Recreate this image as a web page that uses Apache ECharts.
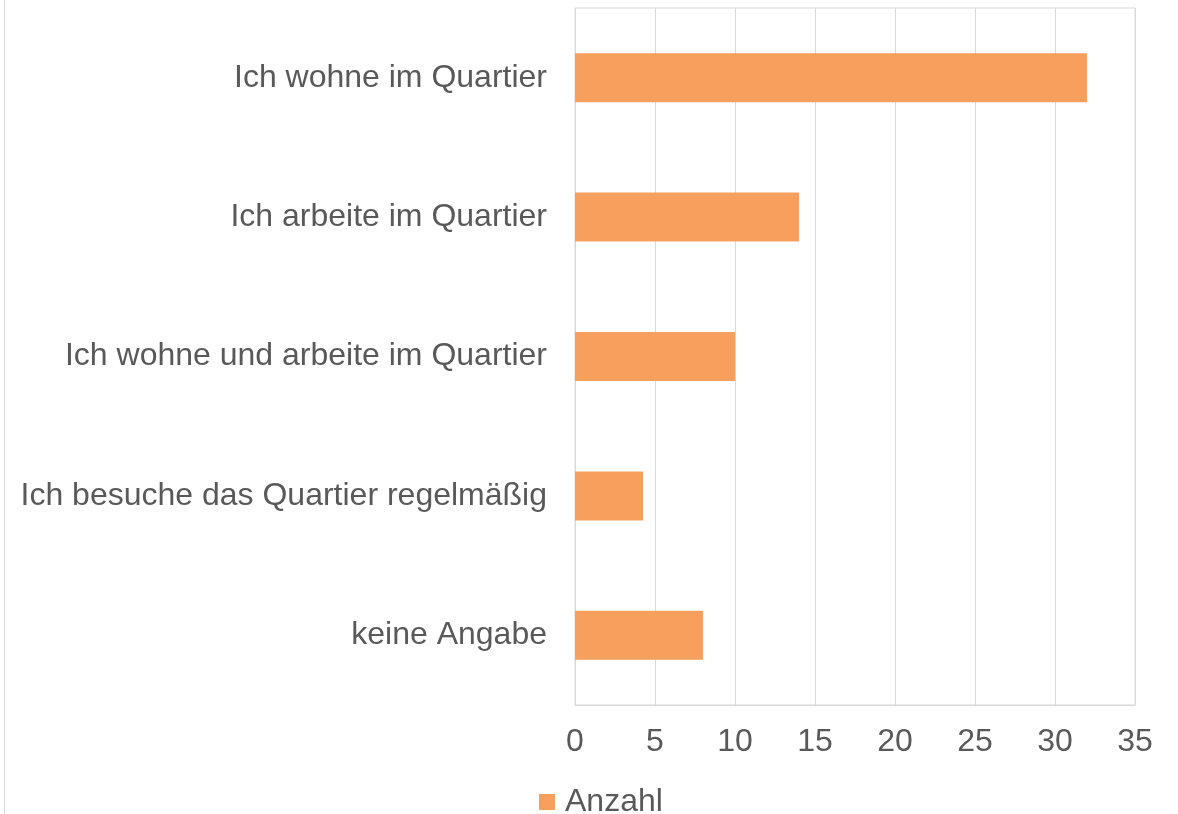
<!DOCTYPE html>
<html>
<head>
<meta charset="utf-8">
<script src="https://cdn.jsdelivr.net/npm/echarts@6/dist/echarts.min.js"></script>
<style>
html, body { margin: 0; padding: 0; background: #fff; }
#chart { width: 1178px; height: 814px; }
</style>
</head>
<body>
<div id="chart"></div>
<script>
// data
const categories = [
    'Ich wohne im Quartier',
    'Ich arbeite im Quartier',
    'Ich wohne und arbeite im Quartier',
    'Ich besuche das Quartier regelmäßig',
    'keine Angabe'
]
const anzahl = [32, 14, 10, 4.25, 8]
const seriesName = 'Anzahl'
const xMin = 0
const xMax = 35
const xStep = 5

const textColor = '#595959'
const lineColor = '#d9d9d9'
const font = '"Liberation Sans", Arial, sans-serif'

let myChart = echarts.init(document.getElementById('chart'))
let option = {
    animation: false,
    textStyle: { fontFamily: font },
    graphic: [
        {
            type: 'line',
            shape: { x1: 4.5, y1: 0, x2: 4.5, y2: 814 },
            style: { stroke: lineColor, lineWidth: 1 }
        }
    ],
    grid: {
        left: 575,
        right: 43,
        top: 8,
        bottom: 109,
        show: true,
        borderColor: lineColor,
        borderWidth: 1
    },
    legend: {
        left: 539,
        top: 786,
        padding: 0,
        icon: 'rect',
        itemWidth: 16,
        itemHeight: 16,
        itemGap: 10,
        textStyle: { color: textColor, fontSize: 32, fontFamily: font, padding: [0, 0, 0, 5] },
        data: [seriesName]
    },
    xAxis: {
        type: 'value',
        min: xMin,
        max: xMax,
        interval: xStep,
        axisLine: { show: true, lineStyle: { color: lineColor } },
        axisTick: { show: false },
        splitLine: { show: true, lineStyle: { color: lineColor, width: 1 } },
        axisLabel: { color: textColor, fontSize: 32, margin: 21, fontFamily: font }
    },
    yAxis: {
        type: 'category',
        inverse: true,
        data: categories,
        axisLine: { show: true, lineStyle: { color: lineColor } },
        axisTick: { show: false },
        axisLabel: { color: textColor, fontSize: 32, margin: 28, fontFamily: font }
    },
    series: [
        {
            name: seriesName,
            type: 'bar',
            data: anzahl,
            barWidth: 49,
            itemStyle: { color: '#f79f5c' }
        }
    ]
}
myChart.setOption(option)
window.addEventListener('resize', function () {
    myChart.resize()
})
</script>
</body>
</html>
